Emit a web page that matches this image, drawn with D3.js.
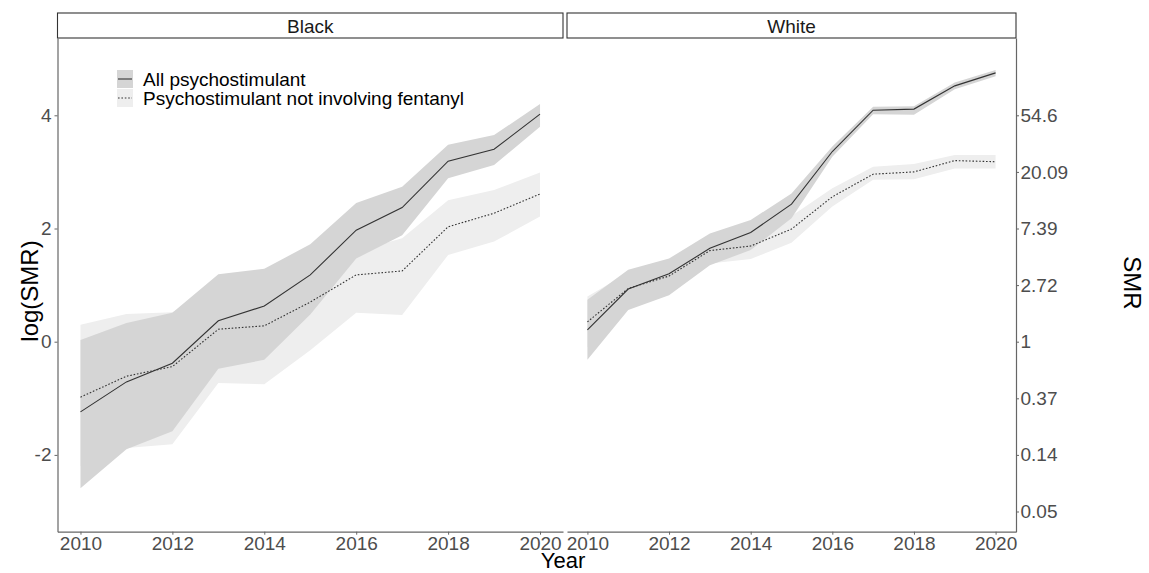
<!DOCTYPE html>
<html>
<head>
<meta charset="utf-8">
<script src="https://cdn.jsdelivr.net/npm/d3@7"></script>
<style>
  html, body { margin: 0; padding: 0; background: #fff; }
  svg { display: block; font-family: "Liberation Sans", Arial, sans-serif; }
</style>
</head>
<body>
<svg id="chart" width="1149" height="573"></svg>
<script>
// ---- data (log SMR) ----
const years = [2010, 2011, 2012, 2013, 2014, 2015, 2016, 2017, 2018, 2019, 2020];
const panels = ["Black", "White"];
const seriesNames = ["All psychostimulant", "Psychostimulant not involving fentanyl"];

const blackAllFit = [-1.24, -0.71, -0.38, 0.37, 0.63, 1.18, 1.97, 2.37, 3.19, 3.40, 4.02];
const blackAllLo  = [-2.59, -1.90, -1.58, -0.48, -0.32, 0.48, 1.47, 1.88, 2.89, 3.12, 3.80];
const blackAllHi  = [0.03, 0.33, 0.51, 1.19, 1.29, 1.72, 2.45, 2.74, 3.48, 3.65, 4.20];
const blackNoFentFit = [-0.98, -0.61, -0.44, 0.22, 0.28, 0.70, 1.18, 1.25, 2.03, 2.27, 2.61];
const blackNoFentLo  = [-2.20, -1.88, -1.81, -0.73, -0.75, -0.15, 0.51, 0.47, 1.53, 1.77, 2.21];
const blackNoFentHi  = [0.30, 0.49, 0.52, 0.95, 1.00, 1.25, 1.60, 1.83, 2.50, 2.68, 2.99];

const whiteAllFit = [0.21, 0.93, 1.20, 1.65, 1.93, 2.43, 3.36, 4.09, 4.11, 4.52, 4.75];
const whiteAllLo  = [-0.32, 0.56, 0.82, 1.35, 1.62, 2.18, 3.27, 4.02, 4.01, 4.46, 4.69];
const whiteAllHi  = [0.74, 1.27, 1.47, 1.91, 2.15, 2.62, 3.45, 4.15, 4.16, 4.58, 4.80];
const whiteNoFentFit = [0.35, 0.94, 1.16, 1.61, 1.69, 1.99, 2.56, 2.96, 3.00, 3.20, 3.18];
const whiteNoFentLo  = [-0.10, 0.65, 0.90, 1.38, 1.46, 1.75, 2.39, 2.86, 2.87, 3.06, 3.06];
const whiteNoFentHi  = [0.80, 1.22, 1.42, 1.85, 1.92, 2.22, 2.71, 3.09, 3.14, 3.30, 3.30];

const xTicks = [2010, 2012, 2014, 2016, 2018, 2020];
const yTicks = [-2, 0, 2, 4];
const yTickLabels = ["-2", "0", "2", "4"];
const smrTicks = [-3, -2, -1, 0, 1, 2, 3, 4];
const smrLabels = ["0.05", "0.14", "0.37", "1", "2.72", "7.39", "20.09", "54.6"];

// ---- layout ----
const svg = d3.select("#chart");
const plotTop = 38, plotBottom = 531.7;
const panelX = [[57.5, 563], [567, 1016]];
const y = d3.scaleLinear().domain([-3.357, 5.366]).range([plotBottom, plotTop]);

const darkFill = "#d5d5d5", lightFill = "#eeeeee";
const axisCol = "#666666", tickText = "#4d4d4d";
const tickFont = 19;

const panelData = {
  Black: {
    all: years.map((yr, i) => ({ yr, fit: blackAllFit[i], lo: blackAllLo[i], hi: blackAllHi[i] })),
    nf: years.map((yr, i) => ({ yr, fit: blackNoFentFit[i], lo: blackNoFentLo[i], hi: blackNoFentHi[i] }))
  },
  White: {
    all: years.map((yr, i) => ({ yr, fit: whiteAllFit[i], lo: whiteAllLo[i], hi: whiteAllHi[i] })),
    nf: years.map((yr, i) => ({ yr, fit: whiteNoFentFit[i], lo: whiteNoFentLo[i], hi: whiteNoFentHi[i] }))
  }
};

function styleAxis(ax) {
  ax.select(".domain").attr("stroke", axisCol).attr("stroke-width", 1.2);
  ax.selectAll(".tick line").attr("stroke", axisCol);
  ax.selectAll(".tick text").attr("font-size", tickFont).attr("fill", tickText)
    .attr("font-family", "Liberation Sans, Arial, sans-serif");
}

panels.forEach((name, p) => {
  const [x0, x1] = panelX[p];
  const x = d3.scaleLinear().domain([2009.5, 2020.5]).range([x0, x1]);
  const g = svg.append("g");
  const d = panelData[name];

  const area = d3.area().x(v => x(v.yr)).y0(v => y(v.lo)).y1(v => y(v.hi));
  const line = d3.line().x(v => x(v.yr)).y(v => y(v.fit));

  g.append("path").datum(d.nf).attr("d", area).attr("fill", lightFill);
  g.append("path").datum(d.all).attr("d", area).attr("fill", darkFill);
  g.append("path").datum(d.nf).attr("d", line).attr("fill", "none")
    .attr("stroke", "#333").attr("stroke-width", 1.1).attr("stroke-dasharray", "1.6,1.8");
  g.append("path").datum(d.all).attr("d", line).attr("fill", "none")
    .attr("stroke", "#333").attr("stroke-width", 1.1);

  // strip
  g.append("rect").attr("x", x0).attr("y", 13).attr("width", x1 - x0).attr("height", plotTop - 13)
    .attr("fill", "#fff").attr("stroke", "#333").attr("stroke-width", 1.1);
  g.append("text").attr("x", (x0 + x1) / 2).attr("y", 26).attr("dy", "0.35em")
    .attr("text-anchor", "middle").attr("font-size", 19).attr("fill", "#1a1a1a").text(name);

  // bottom axis
  const xAxis = g.append("g").attr("transform", `translate(0,${plotBottom})`)
    .call(d3.axisBottom(x).tickValues(xTicks).tickFormat(d3.format("d")).tickSize(3).tickSizeOuter(0).tickPadding(1.5));
  styleAxis(xAxis);

  if (p === 0) {
    const yAxis = g.append("g").attr("transform", `translate(${x0},0)`)
      .call(d3.axisLeft(y).tickValues(yTicks).tickFormat((t, i) => yTickLabels[i]).tickSize(3).tickSizeOuter(0).tickPadding(3));
    styleAxis(yAxis);
  } else {
    const rAxis = g.append("g").attr("transform", `translate(${x1},0)`)
      .call(d3.axisRight(y).tickValues(smrTicks).tickFormat((t, i) => smrLabels[i]).tickSize(3).tickSizeOuter(0).tickPadding(1.5));
    styleAxis(rAxis);
  }
});

// axis titles
svg.append("text").attr("transform", "translate(30,291) rotate(-90)")
  .attr("text-anchor", "middle").attr("dy", "0.35em").attr("font-size", 24).attr("fill", "#000").text("log(SMR)");
svg.append("text").attr("x", 563).attr("y", 568)
  .attr("text-anchor", "middle").attr("font-size", 22).attr("fill", "#000").text("Year");
svg.append("text").attr("transform", "translate(1132,283) rotate(90)")
  .attr("text-anchor", "middle").attr("dy", "0.35em").attr("font-size", 24).attr("fill", "#000").text("SMR");

// legend
const leg = svg.append("g");
const keyFills = [darkFill, lightFill];
const keyDash = [null, "1.6,1.8"];
seriesNames.forEach((s, i) => {
  const ky = 70 + i * 19;
  leg.append("rect").attr("x", 117).attr("y", ky).attr("width", 16).attr("height", 18).attr("fill", keyFills[i]);
  leg.append("line").attr("x1", 118).attr("x2", 132).attr("y1", ky + 9).attr("y2", ky + 9)
    .attr("stroke", "#333").attr("stroke-width", 1.1).attr("stroke-dasharray", keyDash[i]);
  leg.append("text").attr("x", 143).attr("y", ky + 9).attr("dy", "0.35em")
    .attr("font-size", 19).attr("fill", "#000").text(s);
});
</script>
</body>
</html>
